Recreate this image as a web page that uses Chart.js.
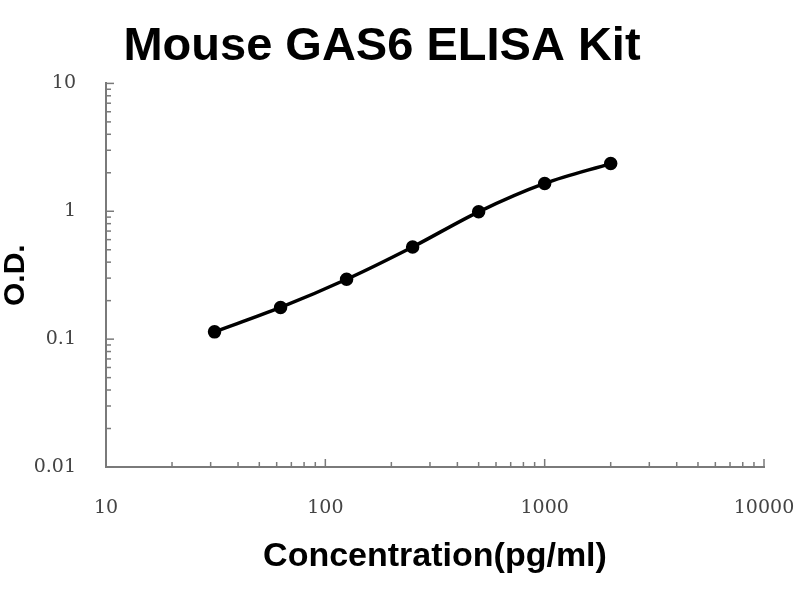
<!DOCTYPE html>
<html>
<head>
<meta charset="utf-8">
<script src="https://cdn.jsdelivr.net/npm/chart.js@4"></script>
<style>
  body { margin: 0; background: #fff; }
  #wrap { width: 800px; height: 600px; }
</style>
</head>
<body>
<div id="wrap"><canvas id="elisaChart" width="800" height="600"></canvas></div>
<script>
// standard curve
const concentrations = [31.25, 62.5, 125, 250, 500, 1000, 2000];
const odValues = [0.114, 0.177, 0.294, 0.526, 0.99, 1.65, 2.36];

// log axis ticks (labels only on powers of ten)
const xTickValues = [10, 20, 30, 40, 50, 60, 70, 80, 90, 100, 200, 300, 400, 500, 600, 700, 800, 900,
  1000, 2000, 3000, 4000, 5000, 6000, 7000, 8000, 9000, 10000];
const yTickValues = [0.01, 0.02, 0.03, 0.04, 0.05, 0.06, 0.07, 0.08, 0.09, 0.1, 0.2, 0.3, 0.4, 0.5, 0.6, 0.7, 0.8, 0.9,
  1, 2, 3, 4, 5, 6, 7, 8, 9, 10];
const xLabels = ["10", "100", "1000", "10000"];
const yLabels = ["0.01", "0.1", "1", "10"];

function isDecade(v) {
  const l = Math.log10(v);
  return Math.abs(l - Math.round(l)) < 1e-9;
}

// inward tick marks, drawn from the scale positions
const innerTicks = {
  id: "innerTicks",
  afterDraw(chart) {
    const ctx = chart.ctx;
    const xs = chart.scales.x, ys = chart.scales.y;
    const area = chart.chartArea;
    ctx.save();
    ctx.strokeStyle = "#7a7a7a";
    ctx.lineWidth = 1.5;
    for (const v of xTickValues) {
      const px = xs.getPixelForValue(v);
      const len = isDecade(v) ? 8 : 5;
      ctx.beginPath();
      ctx.moveTo(px, area.bottom);
      ctx.lineTo(px, area.bottom - len);
      ctx.stroke();
    }
    for (const v of yTickValues) {
      const py = ys.getPixelForValue(v);
      const len = isDecade(v) ? 8 : 5;
      ctx.beginPath();
      ctx.moveTo(area.left, py);
      ctx.lineTo(area.left + len, py);
      ctx.stroke();
    }
    ctx.restore();
  }
};

const tickFont = { family: "DejaVu Serif", size: 19 };

new Chart(document.getElementById("elisaChart"), {
  type: "line",
  data: {
    datasets: [{
      data: concentrations.map((c, i) => ({ x: c, y: odValues[i] })),
      borderColor: "#000",
      backgroundColor: "#000",
      borderWidth: 3.5,
      pointRadius: 5,
      pointHoverRadius: 5,
      cubicInterpolationMode: "monotone",
      fill: false
    }]
  },
  options: {
    responsive: false,
    animation: false,
    layout: { padding: { left: 0, right: 36, top: 0, bottom: 0 } },
    plugins: {
      legend: { display: false },
      tooltip: { enabled: false },
      title: {
        display: true,
        text: "Mouse GAS6 ELISA Kit",
        color: "#000",
        font: { family: "Liberation Sans", size: 47, weight: "bold" },
        padding: { top: 19, bottom: 8 }
      }
    },
    scales: {
      x: {
        type: "logarithmic",
        min: 10,
        max: 10000,
        afterBuildTicks: (scale) => { scale.ticks = xTickValues.map(v => ({ value: v, major: isDecade(v) })); },
        afterFit: (scale) => { scale.height = 133; scale.paddingRight = 0; },
        ticks: {
          autoSkip: false,
          maxRotation: 0,
          padding: 30,
          color: "#444",
          font: tickFont,
          callback: (v) => isDecade(v) ? xLabels[Math.round(Math.log10(v)) - 1] : ""
        },
        grid: { display: false, drawTicks: false },
        border: { display: true, color: "#7a7a7a", width: 2 },
        title: {
          display: true,
          text: "Concentration(pg/ml)",
          color: "#000",
          font: { family: "Liberation Sans", size: 34, weight: "bold" },
          padding: { top: 0, bottom: 23 }
        }
      },
      y: {
        type: "logarithmic",
        min: 0.01,
        max: 10,
        afterBuildTicks: (scale) => { scale.ticks = yTickValues.map(v => ({ value: v, major: isDecade(v) })); },
        afterFit: (scale) => { scale.width = 106; },
        ticks: {
          autoSkip: false,
          padding: 30,
          color: "#444",
          font: tickFont,
          callback: (v) => isDecade(v) ? yLabels[Math.round(Math.log10(v)) + 2] : ""
        },
        grid: { display: false, drawTicks: false },
        border: { display: true, color: "#7a7a7a", width: 2 },
        title: {
          display: true,
          text: "O.D.",
          color: "#000",
          font: { family: "Liberation Sans", size: 30, weight: "bold", lineHeight: 1 },
          padding: { top: 1, bottom: 0 }
        }
      }
    }
  },
  plugins: [innerTicks]
});
</script>
</body>
</html>
